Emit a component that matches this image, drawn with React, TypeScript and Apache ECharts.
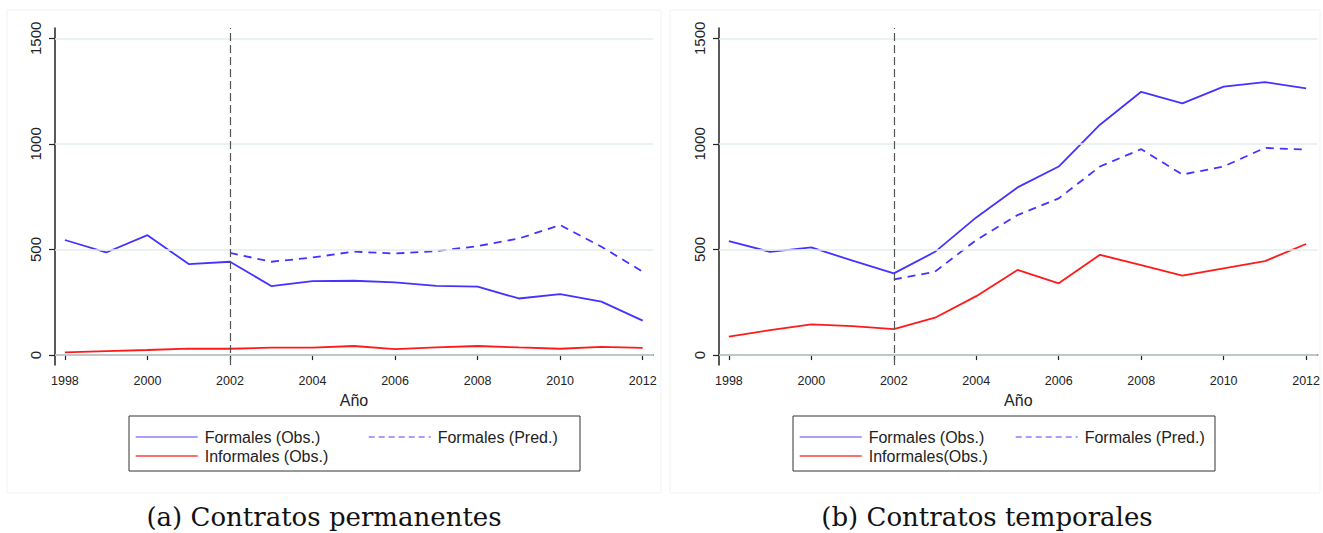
import React, { useEffect, useRef } from "react";
import * as echarts from "echarts";

const years = [1998, 1999, 2000, 2001, 2002, 2003, 2004, 2005, 2006, 2007, 2008, 2009, 2010, 2011, 2012];
const predYears = [2002, 2003, 2004, 2005, 2006, 2007, 2008, 2009, 2010, 2011, 2012];
const xTickLabels = [1998, 2000, 2002, 2004, 2006, 2008, 2010, 2012];
const yTickLabels = [0, 500, 1000, 1500];

// (a) Contratos permanentes
const permFormObs = [545, 486, 568, 431, 442, 327, 350, 352, 344, 328, 324, 268, 289, 253, 163];
const permFormPred = [484, 442, 462, 490, 481, 492, 516, 552, 616, 513, 395];
const permInfObs = [13, 19, 24, 31, 30, 35, 35, 43, 28, 36, 43, 36, 30, 39, 34];

// (b) Contratos temporales
const tempFormObs = [540, 489, 510, 447, 387, 489, 652, 794, 893, 1091, 1247, 1192, 1271, 1293, 1263];
const tempFormPred = [358, 395, 545, 663, 742, 893, 975, 855, 893, 981, 973];
const tempInfObs = [87, 118, 145, 137, 123, 177, 279, 403, 340, 475, 426, 376, 411, 445, 526];

const BLUE = "#4433ff";
const RED = "#ff1a1a";
const SANS = "Liberation Sans, Arial, sans-serif";
const SERIF = "DejaVu Serif, serif";

const pairs = (xs: number[], ys: number[]) => xs.map((x, i) => [x, ys[i]]);

export default function App() {
  const ref = useRef<HTMLDivElement>(null);
  useEffect(() => {
    if (!ref.current) return;
    const chart = echarts.init(ref.current, undefined, { renderer: "svg" });

    const grids = [
      { left: 55, top: 28, width: 598, height: 337 },
      { left: 719, top: 28, width: 599, height: 337 },
    ];

    const xAxis = [0, 1].map((i) => ({
      type: "value",
      gridIndex: i,
      min: 1997.76,
      max: i === 0 ? 2012.25 : 2012.28,
      name: "Año",
      nameLocation: "middle",
      nameGap: 27,
      nameTextStyle: { fontFamily: SANS, fontSize: 16, color: "#222" },
      axisLine: { show: true, lineStyle: { color: "#222", width: 1.5 } },
      axisTick: { show: true, length: 5, customValues: xTickLabels, lineStyle: { color: "#222", width: 1.2 } },
      axisLabel: {
        customValues: xTickLabels,
        formatter: (v: number) => String(v),
        fontFamily: SANS,
        fontSize: 12.5,
        color: "#222",
        margin: 9,
      },
      splitLine: { show: false },
    }));

    const yAxis = [0, 1].map((i) => ({
      type: "value",
      gridIndex: i,
      min: -47,
      max: 1549,
      axisLine: { show: true, lineStyle: { color: "#222", width: 1.5 } },
      axisTick: { show: true, length: 6, customValues: yTickLabels, lineStyle: { color: "#222", width: 1.2 } },
      axisLabel: {
        customValues: yTickLabels,
        formatter: (v: number) => String(v),
        rotate: 90,
        fontFamily: SANS,
        fontSize: 15,
        color: "#222",
        margin: 12,
      },
      splitLine: { show: false },
    }));

    const gridLines = (i: number) => ({
      type: "line",
      xAxisIndex: i,
      yAxisIndex: i,
      data: [],
      silent: true,
      markLine: {
        silent: true,
        symbol: "none",
        label: { show: false },
        lineStyle: { color: "#e3edef", width: 1.5, type: "solid" },
        data: yTickLabels.map((v) => ({ yAxis: v })),
      },
    });

    const vline = (i: number) => ({
      type: "line",
      xAxisIndex: i,
      yAxisIndex: i,
      data: [],
      silent: true,
      z: 1,
      markLine: {
        silent: true,
        symbol: "none",
        label: { show: false },
        lineStyle: { color: "#555", width: 1.2, type: [8, 4] },
        data: [{ xAxis: 2002 }],
      },
    });

    const line = (name: string, i: number, data: number[][], color: string, dashed: boolean) => ({
      name,
      type: "line",
      xAxisIndex: i,
      yAxisIndex: i,
      data,
      symbol: "none",
      z: 3,
      lineStyle: { color, width: 1.8, type: dashed ? [8, 6] : "solid" },
      itemStyle: { color },
    });

    const series = [
      gridLines(0),
      gridLines(1),
      vline(0),
      vline(1),
      line("Formales (Obs.)", 0, pairs(years, permFormObs), BLUE, false),
      line("Formales (Pred.)", 0, pairs(predYears, permFormPred), BLUE, true),
      line("Informales (Obs.)", 0, pairs(years, permInfObs), RED, false),
      line("Formales (Obs.) ", 1, pairs(years, tempFormObs), BLUE, false),
      line("Formales (Pred.) ", 1, pairs(predYears, tempFormPred), BLUE, true),
      line("Informales(Obs.)", 1, pairs(years, tempInfObs), RED, false),
    ];

    const leg = (name: string, left: number, top: number, display: string, color: string, dashed: boolean) => ({
      data: [name],
      left,
      top,
      padding: 0,
      itemWidth: 62,
      itemHeight: 10,
      itemGap: 10,
      selectedMode: false,
      formatter: () => display,
      itemStyle: { opacity: 0 },
      lineStyle: { color, width: 1.4, type: dashed ? [6, 4] : "solid", opacity: 1 },
      textStyle: { fontFamily: SANS, fontSize: 16, color: "#222", padding: [0, 0, 0, 2] },
    });

    const LBLUE = "#8a80ff";
    const LRED = "#ff4040";
    const legend = [
      leg("Formales (Obs.)", 135, 429, "Formales (Obs.)", LBLUE, false),
      leg("Formales (Pred.)", 368, 429, "Formales (Pred.)", LBLUE, true),
      leg("Informales (Obs.)", 135, 448, "Informales (Obs.)", LRED, false),
      leg("Formales (Obs.) ", 799, 429, "Formales (Obs.)", LBLUE, false),
      leg("Formales (Pred.) ", 1015, 429, "Formales (Pred.)", LBLUE, true),
      leg("Informales(Obs.)", 799, 448, "Informales(Obs.)", LRED, false),
    ];

    chart.setOption({
      animation: false,
      backgroundColor: "#ffffff",
      grid: grids,
      xAxis,
      yAxis,
      series,
      legend,
      graphic: [
        { type: "rect", shape: { x: 7, y: 10, width: 654, height: 483 }, style: { fill: "none", stroke: "#f0f2f2", lineWidth: 1 }, silent: true },
        { type: "rect", shape: { x: 670, y: 10, width: 650, height: 483 }, style: { fill: "none", stroke: "#f0f2f2", lineWidth: 1 }, silent: true },
        { type: "rect", shape: { x: 129, y: 416, width: 451, height: 55 }, style: { fill: "none", stroke: "#333", lineWidth: 1 }, silent: true, z: -1 },
        { type: "rect", shape: { x: 793, y: 416, width: 422, height: 55 }, style: { fill: "none", stroke: "#333", lineWidth: 1 }, silent: true, z: -1 },
        { type: "text", x: 324, y: 517, style: { text: "(a) Contratos permanentes", font: `26px ${SERIF}`, fill: "#111", align: "center", verticalAlign: "middle" }, silent: true },
        { type: "text", x: 987, y: 517, style: { text: "(b) Contratos temporales", font: `26px ${SERIF}`, fill: "#111", align: "center", verticalAlign: "middle" }, silent: true },
      ],
    });
    return () => chart.dispose();
  }, []);
  return <div ref={ref} style={{ position: "fixed", left: 0, top: 0, width: 1323, height: 533 }} />;
}
